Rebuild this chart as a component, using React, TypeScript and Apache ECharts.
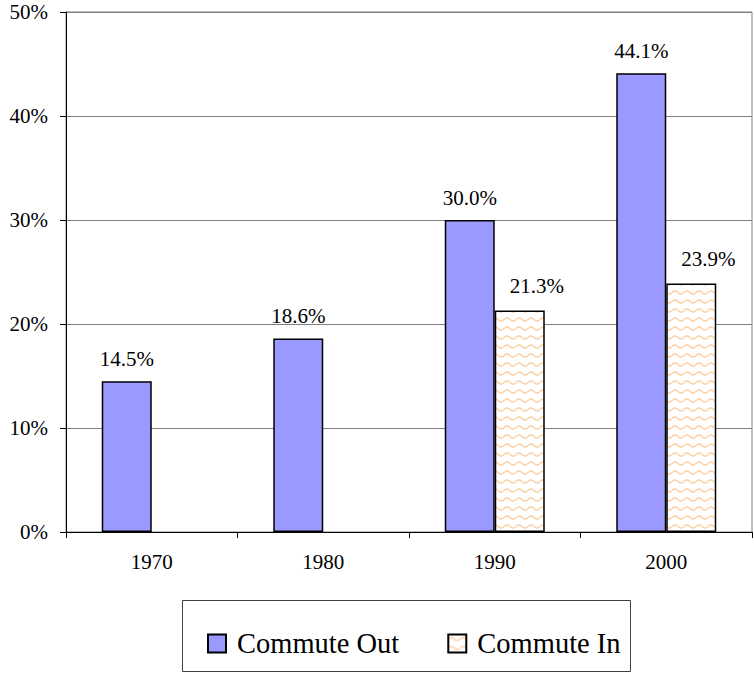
import React, { useEffect, useRef } from "react";
import * as echarts from "echarts";

const categories = ["1970", "1980", "1990", "2000"];
const commuteOut = [14.5, 18.6, 30.0, 44.1];
const commuteIn: (number | null)[] = [null, null, 21.3, 23.9];
const yTicks = { min: 0, max: 50, interval: 10 };

function makeWavePattern(): string {
  const c = document.createElement("canvas");
  c.width = 12;
  c.height = 9;
  const ctx = c.getContext("2d")!;
  ctx.fillStyle = "#ffffff";
  ctx.fillRect(0, 0, 12, 9);
  ctx.strokeStyle = "#fdd0a4";
  ctx.lineWidth = 1.5;
  ctx.beginPath();
  for (let x = 0; x <= 12; x += 0.5) {
    const y = 4.5 - 1.5 * Math.sin((x / 12) * Math.PI * 2);
    if (x === 0) ctx.moveTo(x, y);
    else ctx.lineTo(x, y);
  }
  ctx.stroke();
  return c.toDataURL();
}

export default function App() {
  const ref = useRef<HTMLDivElement>(null);
  useEffect(() => {
    document.body.style.margin = "0";
    const chart = echarts.init(ref.current!, undefined, { renderer: "svg" });
    const pattern = { image: makeWavePattern(), repeat: "repeat" as const };
    const font = "Liberation Serif";
    chart.setOption({
      animation: false,
      backgroundColor: "#ffffff",
      textStyle: { fontFamily: font },
      grid: {
        left: 66,
        top: 12,
        right: 2,
        bottom: 141,
        show: true,
        borderColor: "#808080",
        borderWidth: 1,
      },
      xAxis: {
        type: "category",
        data: categories,
        axisLine: { lineStyle: { color: "#000", width: 1 } },
        axisTick: { show: true, length: 6, lineStyle: { color: "#000" } },
        axisLabel: { color: "#000", fontSize: 21, fontFamily: font, margin: 19 },
      },
      yAxis: {
        type: "value",
        min: yTicks.min,
        max: yTicks.max,
        interval: yTicks.interval,
        axisLine: { show: true, lineStyle: { color: "#000", width: 1 } },
        axisTick: { show: true, length: 6, lineStyle: { color: "#000" } },
        axisLabel: {
          color: "#000",
          fontSize: 21,
          fontFamily: font,
          margin: 18,
          formatter: "{value}%",
        },
        splitLine: { lineStyle: { color: "#808080", width: 1 } },
      },
      legend: {
        left: 202,
        top: 624,
        itemWidth: 18,
        itemHeight: 18,
        itemGap: 48,
        icon: "rect",
        textStyle: { fontSize: 28.5, color: "#000", fontFamily: font, padding: [0, 0, 0, 6] },
        data: ["Commute Out", "Commute In"],
      },
      graphic: [
        {
          type: "rect",
          shape: { x: 182.5, y: 600.5, width: 448, height: 71 },
          style: { fill: "none", stroke: "#404040", lineWidth: 1 },
          silent: true,
        },
      ],
      series: [
        {
          name: "Commute Out",
          type: "bar",
          data: commuteOut,
          barWidth: 50,
          barGap: "0%",
          itemStyle: { color: "#9999ff", borderColor: "#000", borderWidth: 1.5 },
          label: {
            show: true,
            position: "top",
            distance: 12,
            color: "#000",
            fontSize: 21,
            fontFamily: font,
            formatter: (p: any) => p.value.toFixed(1) + "%",
          },
        },
        {
          name: "Commute In",
          type: "bar",
          data: commuteIn,
          barWidth: 50,
          barGap: "0%",
          itemStyle: { color: pattern, borderColor: "#000", borderWidth: 1.5 },
          label: {
            show: true,
            position: "top",
            distance: 14,
            offset: [17, 0],
            color: "#000",
            fontSize: 21,
            fontFamily: font,
            formatter: (p: any) => (p.value == null ? "" : p.value.toFixed(1) + "%"),
          },
        },
      ],
    });
    return () => chart.dispose();
  }, []);
  return <div ref={ref} style={{ width: 754, height: 673 }} />;
}
